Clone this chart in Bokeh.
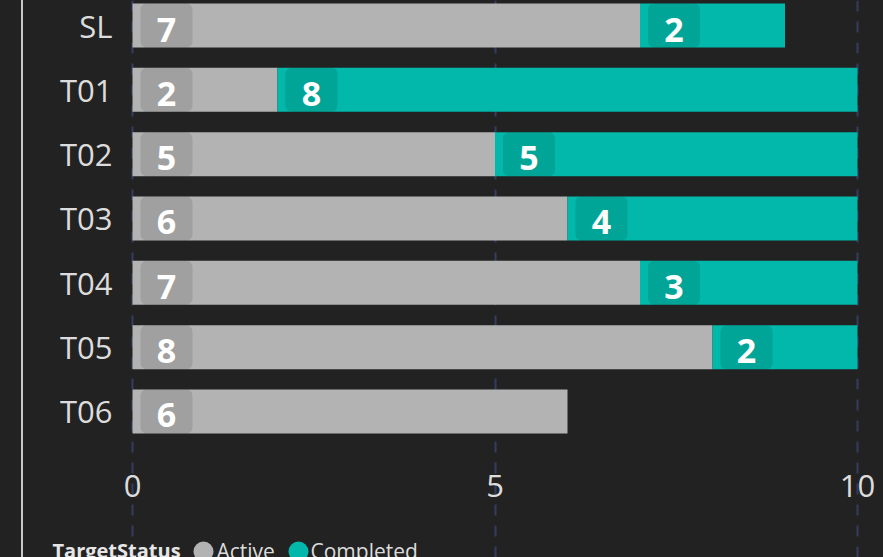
from bokeh.plotting import figure
from bokeh.models import (Range1d, FixedTicker, ColumnDataSource, Label,
                          GlobalInlineStyleSheet)
from bokeh.core.properties import value
from bokeh.embed import file_html
from bokeh.resources import INLINE

# ---- data ----
categories = ["SL", "T01", "T02", "T03", "T04", "T05", "T06"]
active = [7, 2, 5, 6, 7, 8, 6]
completed = [2, 8, 5, 4, 3, 2, 0]
series_names = ["Active", "Completed"]
x_ticks = [0, 5, 10]
x_max = 10
legend_title = "TargetStatus"

# ---- styles / layout (pixels) ----
W, H = 883, 557
colors = ["#b3b3b3", "#01b8aa"]
bg = "#222222"
text_col = "#dcdcdc"
font = "Open Sans"
plot_left, plot_right = 132, 857      # pixel x of value 0 and of x_max
first_band_px, band_px = 25, 64.33    # pixel y of first category centre, band pitch
axis_px = 460                         # pixel y of the x axis
bar_h = 0.684
legend_title_px = 52                  # legend layout (pixels)
legend_marker_px = [203, 298]
legend_text_px = [216, 310]
legend_marker_y_px = 551
legend_text_y_px = 550
legend_title_y_px = 550

px_per_unit = (plot_right - plot_left) / x_max
box_pad = 8 / px_per_unit
box_w = 52 / px_per_unit

n = len(categories)
ypos = [n - 1 - i for i in range(n)]
y_top = (n - 1) + first_band_px / band_px
y_bottom = y_top - H / band_px
y_axis = y_top - axis_px / band_px

src = ColumnDataSource(dict(y=ypos, Active=active, Completed=completed))

p = figure(width=W, height=H, output_backend="svg", toolbar_location=None, title=None,
           x_range=Range1d(-plot_left / px_per_unit, x_max + (W - plot_right) / px_per_unit),
           y_range=Range1d(y_bottom, y_top),
           min_border_left=0, min_border_right=0, min_border_top=0, min_border_bottom=0)
p.background_fill_color = None
p.border_fill_color = None
p.outline_line_color = None
p.stylesheets = [GlobalInlineStyleSheet(css=(
    "html, body { background-color: %s; background-image: linear-gradient(to right, %s 21px, "
    "#c8c8c8 21px, #c8c8c8 23px, %s 23px); }" % (bg, bg, bg)))]

p.hbar_stack(series_names, y="y", height=bar_h, color=colors, source=src, line_color=None)

# data labels with rounded boxes
lx, ly, lt = [], [], []
for vals, starts in ((active, [0] * n), (completed, active)):
    for y, v, s in zip(ypos, vals, starts):
        if v > 0:
            lx.append(s)
            ly.append(y)
            lt.append(str(v))
lsrc = ColumnDataSource(dict(x=lx, y=ly, t=lt,
                             l=[v + box_pad for v in lx], r=[v + box_pad + box_w for v in lx]))
p.hbar(y="y", left="l", right="r", height=bar_h, source=lsrc, fill_color="black",
       fill_alpha=0.1, line_color=None, border_radius=6)
p.text(x="x", y="y", text="t", source=lsrc, x_offset=34, y_offset=4, text_align="center",
       text_baseline="middle", text_font=value(font), text_font_style="bold",
       text_font_size="34px", text_color="white")

# axes (placed inside the full-size frame)
p.xaxis.ticker = FixedTicker(ticks=x_ticks)
p.xaxis.fixed_location = y_axis
p.yaxis.ticker = FixedTicker(ticks=ypos)
p.yaxis.fixed_location = 0
p.yaxis.major_label_overrides = {y: c for y, c in zip(ypos, categories)}
for ax in (p.xaxis, p.yaxis):
    ax.axis_line_color = None
    ax.major_tick_line_color = None
    ax.minor_tick_line_color = None
    ax.major_tick_out = 0
    ax.major_tick_in = 0
    ax.major_label_text_font = font
    ax.major_label_text_font_size = "31px"
    ax.major_label_text_color = text_col
p.yaxis.major_label_standoff = 20
p.xaxis.major_label_standoff = 14

p.ygrid.grid_line_color = None
p.xgrid.ticker = FixedTicker(ticks=x_ticks)
p.xgrid.bounds = (y_axis, y_top)
p.xgrid.grid_line_color = "#323c60"
p.xgrid.grid_line_width = 2
p.xgrid.grid_line_dash = "11 10"

# legend (title, markers, texts)
msrc = ColumnDataSource(dict(
    x=[(px - plot_left) / px_per_unit for px in legend_marker_px],
    y=[y_top - legend_marker_y_px / band_px] * len(series_names),
    c=colors))
p.scatter(x="x", y="y", source=msrc, marker="circle", size=20, fill_color="c", line_color=None)
p.add_layout(Label(x=legend_title_px, y=H - legend_title_y_px, x_units="screen",
                   y_units="screen", text=legend_title, text_font=font, text_font_size="20px",
                   text_font_style="bold", text_color="#e6e6e6", text_baseline="middle"))
for name, px in zip(series_names, legend_text_px):
    p.add_layout(Label(x=px, y=H - legend_text_y_px, x_units="screen", y_units="screen",
                       text=name, text_font=font, text_font_size="21px",
                       text_color=text_col, text_baseline="middle"))

open("out.html", "w").write(file_html(p, INLINE))
